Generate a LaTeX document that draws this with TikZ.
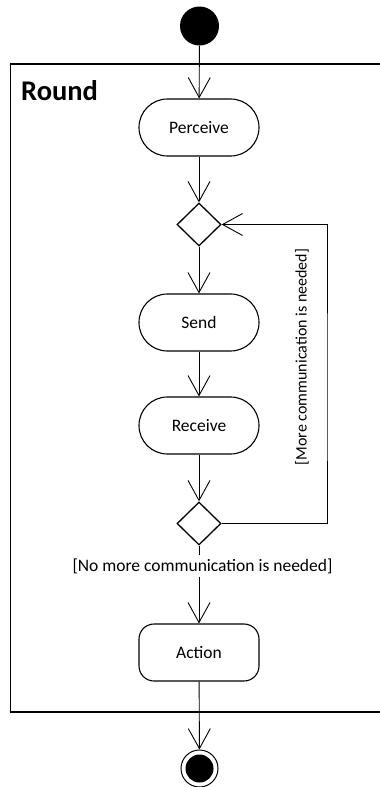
\documentclass[tikz,border=0pt]{standalone}
\usepackage{fontspec}
\setmainfont{Carlito}
\usetikzlibrary{arrows.meta,shapes.geometric}
\begin{document}
\begin{tikzpicture}[x=1pt,y=-1pt,
  act/.style={draw,line width=1.1pt,rectangle,rounded corners=28.4pt,minimum width=120pt,minimum height=57pt,inner sep=0pt,font=\fontsize{17.5}{20}\selectfont},
  act2/.style={act,rounded corners=15pt},
  dec/.style={draw,line width=1.3pt,diamond,minimum width=44pt,minimum height=43pt,inner sep=0pt},
  arr/.style={line width=0.9pt,-{Straight Barb[length=20pt,width=22pt,line width=0.9pt]}},
  guard/.style={font=\fontsize{17.5}{20}\selectfont,inner sep=0pt}
]
\useasboundingbox (0,0) rectangle (380,787);
% frame
\draw[line width=1.5pt] (381,64) -- (10.5,64) -- (10.5,712) -- (381,712);
\node[anchor=base west,inner sep=0pt,font=\fontsize{28.5}{32}\selectfont\bfseries] (round) at (21,100) {Round};

\node[circle,fill=black,minimum size=39pt,inner sep=0pt] (start) at (199.5,26) {};
\node[act] (perceive) at (199,127.5) {Perceive};
\node[dec] (d1) at (199,224.5) {};
\node[act] (send) at (199,322.5) {Send};
\node[act] (receive) at (199,425.5) {Receive};
\node[dec] (d2) at (199,523.5) {};
\node[act2] (action) at (199,652.5) {Action};
\node[circle,draw,line width=1pt,minimum size=37pt,inner sep=0pt] (end) at (199.5,768.5) {};
\node[circle,fill=black,minimum size=28pt,inner sep=0pt] (endin) at (199.5,768.5) {};

\coordinate (loopx) at (327,400);

\draw[arr] (start) -- (perceive);
\draw[arr] (perceive) -- (d1);
\draw[arr] (d1) -- (send);
\draw[arr] (send) -- (receive);
\draw[arr] (receive) -- (d2);
\draw[arr] (d2) -- (action);
\draw[arr] (action) -- (end);
\draw[arr] (d2.east) -| (loopx) |- (d1.east);

\node[guard,fill=white,inner sep=3pt] (gno) at (202.5,566) {[No more communication is needed]};
\node[guard,rotate=90,font=\fontsize{16}{19}\selectfont] (gmore) at (302,357) {[More communication is needed]};
\end{tikzpicture}
\end{document}
